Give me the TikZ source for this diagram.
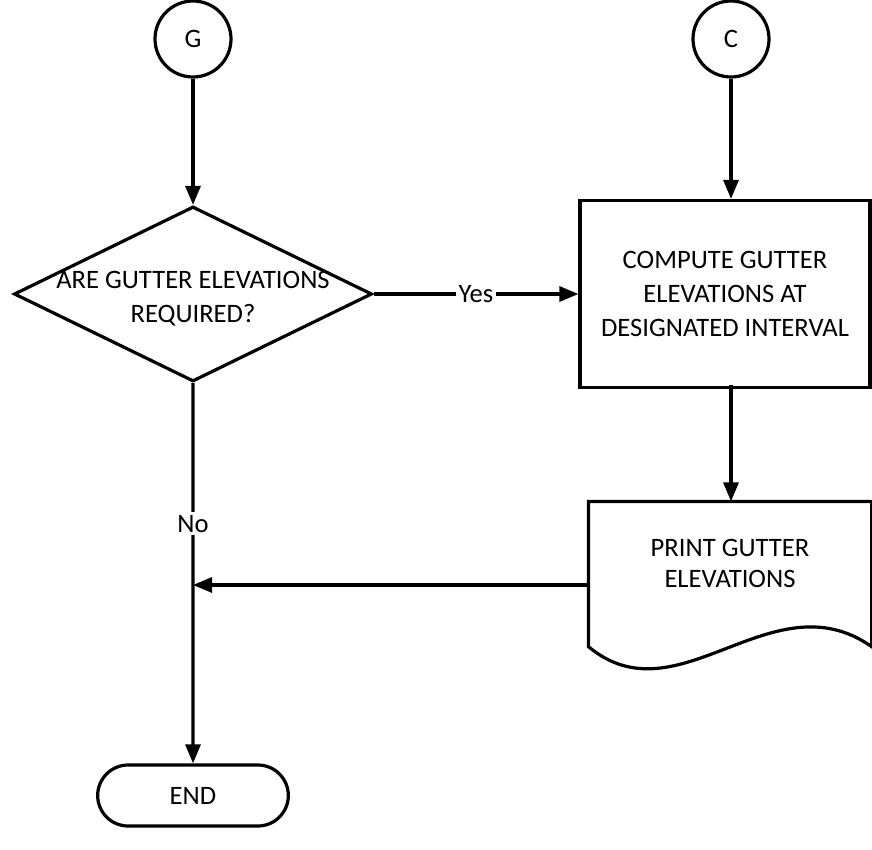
\documentclass[tikz,border=0pt]{standalone}
\usepackage{fontspec}
\setmainfont{Carlito}
\usetikzlibrary{arrows.meta, positioning, shapes.geometric, shapes.misc, calc}

\begin{document}
\begin{tikzpicture}[
  x=0.5pt, y=-0.5pt,
  >={Triangle[length=9.5pt, width=7.5pt]}, line width=1.6pt,
  every node/.style={font=\fontsize{13.3}{17}\selectfont},
  connector/.style={circle, draw, minimum size=38pt, inner sep=0pt},
  decision/.style={diamond, draw, minimum width=179pt, minimum height=87.5pt, inner sep=0pt},
  process/.style={rectangle, draw, minimum width=145pt, minimum height=93.5pt, align=center},
  docbox/.style={rectangle, minimum width=140pt, minimum height=82pt, inner sep=0pt},
  terminal/.style={rounded rectangle, draw, minimum width=102pt, minimum height=30.5pt},
  lbl/.style={fill=white, inner sep=1.5pt}
]
\useasboundingbox (0,0) rectangle (872,850);

\node[connector] (G) at (193,39) {G};
\node[connector] (C) at (731,39) {C};
\node[decision, label={[align=center, yshift=-2.5pt]center:{ARE GUTTER ELEVATIONS\\REQUIRED?}}] (ask) at (193,294) {};
\node[process] (compute) at (725,294) {COMPUTE GUTTER\\ELEVATIONS AT\\DESIGNATED INTERVAL};
\node[docbox] (print) at (730,585) {};
\node[align=center, font=\fontsize{13.3}{15.5}\selectfont, below=15pt of print.north] (printtxt) {PRINT GUTTER\\ELEVATIONS};
\node[terminal] (end) at (193,795.5) {END};

% document outline, wavy bottom
\draw (print.north west) -- (print.north east) -- ([yshift=11pt]print.south east)
  .. controls ($(print.south east)+(-100,-92)$) and ($(print.south west)+(90,53)$) .. ([yshift=11pt]print.south west) -- cycle;

\draw[->] (G) -- (ask);
\draw[->] (C) -- (C |- compute.north);
\draw[->] (ask) -- node[lbl]{Yes} (compute);
\draw[->] (print.north -| C) ++(0,-116) coordinate (cdown) -- (cdown |- print.north);
\draw[->] (print.west) -- (print.west -| ask);
\draw[->] (ask) -- node[lbl, pos=0.37]{No} (end);
\end{tikzpicture}
\end{document}
